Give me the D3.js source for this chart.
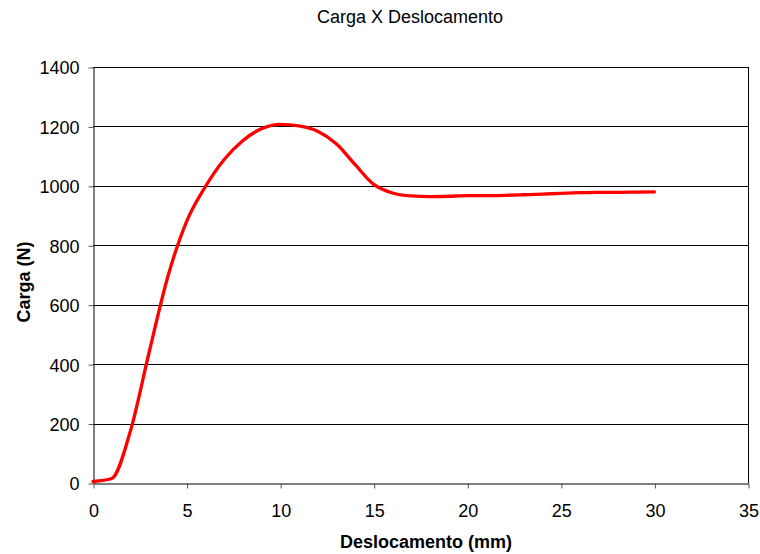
<!DOCTYPE html>
<html><head><meta charset="utf-8">
<script src="https://cdn.jsdelivr.net/npm/d3@7"></script>
<style>body{margin:0;background:#fff;} svg{display:block;font-family:"Liberation Sans",Arial,sans-serif;}</style>
</head><body>
<svg id="c" width="760" height="554"></svg>
<script>
const deslocamento = [0, 1, 2, 3, 4, 5, 6, 7, 8, 9, 10, 11, 12, 13, 14, 15, 16, 17, 18, 19, 20, 21, 22, 23, 24, 25, 26, 27, 28, 29, 30];
const carga = [5, 15, 175, 440, 695, 880, 997, 1088, 1152, 1192, 1207, 1202, 1184, 1142, 1072, 1005, 976, 966, 964, 965, 967, 967, 968, 970, 972, 975, 977, 978, 978, 979, 980];
const xTicks = [0, 5, 10, 15, 20, 25, 30, 35];
const yTicks = [0, 200, 400, 600, 800, 1000, 1200, 1400];
const title = "Carga X Deslocamento";
const xTitle = "Deslocamento (mm)";
const yTitle = "Carga (N)";

const svg = d3.select("#c");
const L = 93, R = 748, T = 67, B = 483;
const x = d3.scaleLinear().domain([0, 35]).range([L, R]);
const y = d3.scaleLinear().domain([0, 1400]).range([B, T]);

// gridlines
svg.append("g").selectAll("line").data(yTicks.filter(d => d > 0)).join("line")
  .attr("x1", L).attr("x2", R)
  .attr("y1", d => Math.round(y(d)) + 0.5).attr("y2", d => Math.round(y(d)) + 0.5)
  .attr("stroke", "#000").attr("stroke-width", 1);
// right border
svg.append("line").attr("x1", R + 0.5).attr("x2", R + 0.5).attr("y1", T).attr("y2", B).attr("stroke", "#000");

const fmt = d3.format("d");
const yAxis = svg.append("g").attr("transform", `translate(${L + 0.5},0.5)`)
  .call(d3.axisLeft(y).tickValues(yTicks).tickSize(5).tickSizeOuter(0).tickPadding(9).tickFormat(fmt));
const xAxis = svg.append("g").attr("transform", `translate(0.5,${B + 0.5})`)
  .call(d3.axisBottom(x).tickValues(xTicks).tickSize(5).tickSizeOuter(0).tickPadding(16).tickFormat(fmt));
[yAxis, xAxis].forEach(a => {
  a.selectAll("text").attr("font-size", 18).attr("fill", "#000").attr("font-family", "Liberation Sans, Arial, sans-serif");
  a.selectAll("line").attr("stroke", "#555");
  a.select(".domain").attr("stroke", "#000");
});
yAxis.selectAll("text").attr("dy", "0.36em");

const line = d3.line().x((d, i) => x(deslocamento[i])).y(d => y(d)).curve(d3.curveMonotoneX);
svg.append("path").datum(carga).attr("d", line).attr("fill", "none")
  .attr("stroke", "#ff0000").attr("stroke-width", 3.3).attr("stroke-linejoin", "round").attr("stroke-linecap", "round");

svg.append("text").attr("x", 410).attr("y", 22.5).attr("text-anchor", "middle").attr("font-size", 18).text(title);
svg.append("text").attr("x", 426).attr("y", 548).attr("text-anchor", "middle").attr("font-size", 18).attr("font-weight", "bold").text(xTitle);
svg.append("text").attr("transform", "translate(30,282) rotate(-90)").attr("text-anchor", "middle").attr("font-size", 18).attr("font-weight", "bold").text(yTitle);
</script>
</body></html>
